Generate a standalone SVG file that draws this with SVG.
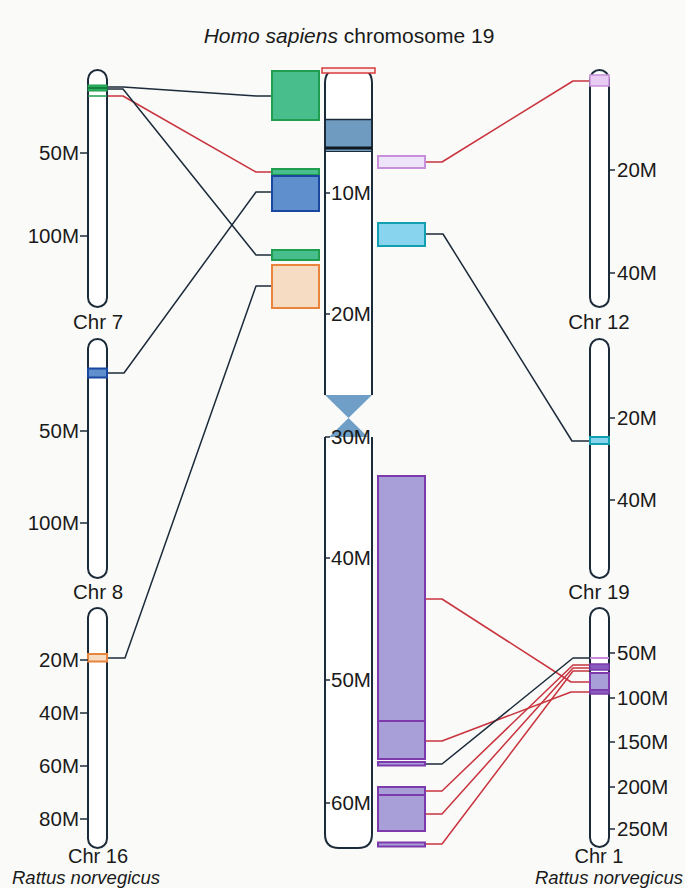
<svg xmlns="http://www.w3.org/2000/svg" width="685" height="888" viewBox="0 0 685 888">
<style>
text{font-family:"Liberation Sans",Arial,sans-serif;font-size:20.5px;fill:#1a1a1a}
.it{font-style:italic}
.ttl{font-size:21px}
.sp{font-size:18.5px}
.cb{font-size:20px}
.chr{fill:#ffffff;stroke:#1c2b3a;stroke-width:2}
.tick{stroke:#1c2b3a;stroke-width:1.5}
.con{fill:none;stroke-width:1.5;stroke-linejoin:round}
.k{stroke:#1c2b3a}
.r{stroke:#c9343e}
.grn{fill:#48be8c;stroke:#1f9e50;stroke-width:2}
.blu{fill:#5f8fcc;stroke:#1a47a0;stroke-width:2}
.org{fill:#f6dcc2;stroke:#e8843c;stroke-width:2}
.pnk{fill:#eee4fa;stroke:#c890dc;stroke-width:2}
.cyn{fill:#88d4ee;stroke:#10a0b0;stroke-width:2}
.pur{fill:#a89ed8;stroke:#7c3aac;stroke-width:2}
.dpur{fill:#8a5cc0;stroke:#7c3aac;stroke-width:1.5}
.end{text-anchor:end}
.mid{text-anchor:middle}
</style>
<rect x="0" y="0" width="685" height="888" fill="#fafaf9"/>
<text x="349" y="43" class="mid ttl"><tspan class="it">Homo sapiens</tspan> chromosome 19</text>

<g id="connectors">
<polyline class="con k" points="107,87 123,87 256,96 272,96"/>
<polyline class="con r" points="107,96 123,96 256,172 272,172"/>
<polyline class="con k" points="107,89 123,89 256,255 272,255"/>
<polyline class="con k" points="107,373 124,373 256,192 272,192"/>
<polyline class="con k" points="107,658 125,658 256,286 272,286"/>
<polyline class="con r" points="425,162 442,162 573,81 590,81"/>
<polyline class="con k" points="425,234 443,234 572,441 590,441"/>
<polyline class="con r" points="425,599 442,599 571,682 590,682"/>
<polyline class="con r" points="425,741 442,741 571,692 590,692"/>
<polyline class="con k" points="425,764 442,764 573,658 590,658"/>
<polyline class="con r" points="425,791 442,791 573,665 590,665"/>
<polyline class="con r" points="425,814 442,814 573,668 590,668"/>
<polyline class="con r" points="425,844 442,844 573,671 590,671"/>
</g>

<g id="hs-chr19">
<polygon points="325,395 372,395 348.5,418" fill="#6f9fc6"/>
<polygon points="348.5,418 325,441 372,441" fill="#6f9fc6"/>
<path class="chr" d="M325,395 L325,83 Q325,69 339,69 L358,69 Q372,69 372,83 L372,395"/>
<path class="chr" d="M325,437 L325,834 Q325,848 339,848 L358,848 Q372,848 372,834 L372,437"/>
<rect x="326" y="119" width="45" height="33" fill="#6e9bbf"/>
<line x1="325" y1="119.5" x2="372" y2="119.5" stroke="#1c2b3a" stroke-width="1.5"/>
<rect x="325" y="146.5" width="47" height="3" fill="#101820"/>
<line x1="325" y1="151.5" x2="372" y2="151.5" stroke="#1c2b3a" stroke-width="1"/>
<line class="tick" x1="325" y1="193" x2="330" y2="193"/><text x="331" y="200">10M</text>
<line class="tick" x1="325" y1="314" x2="330" y2="314"/><text x="331" y="321">20M</text>
<line class="tick" x1="325" y1="437" x2="330" y2="437"/><text x="331" y="444">30M</text>
<line class="tick" x1="325" y1="558" x2="330" y2="558"/><text x="331" y="565">40M</text>
<line class="tick" x1="325" y1="680" x2="330" y2="680"/><text x="331" y="687">50M</text>
<line class="tick" x1="325" y1="803" x2="330" y2="803"/><text x="331" y="810">60M</text>
<rect x="322" y="68" width="53" height="5" fill="#fdeeee" stroke="#d83c3c" stroke-width="1.5"/>
</g>

<g id="hs-blocks-left">
<rect class="grn" x="272" y="71" width="47" height="49"/>
<rect class="grn" x="272" y="169" width="47" height="6"/>
<rect class="blu" x="272" y="176" width="47" height="35"/>
<rect class="grn" x="272" y="250" width="47" height="10"/>
<rect class="org" x="272" y="265" width="47" height="43"/>
</g>

<g id="hs-blocks-right">
<rect class="pnk" x="378" y="156" width="47" height="12"/>
<rect class="cyn" x="378" y="223" width="47" height="23"/>
<rect class="pur" x="378" y="476" width="47" height="245"/>
<rect class="pur" x="378" y="721" width="47" height="38"/>
<rect class="pur" x="378" y="762" width="47" height="3.5" stroke-width="1.5"/>
<rect class="pur" x="378" y="787" width="47" height="8"/>
<rect class="pur" x="378" y="795" width="47" height="36"/>
<rect class="pur" x="378" y="842.5" width="47" height="4" stroke-width="1.5"/>
</g>

<g id="rn-chr7">
<rect class="chr" x="88" y="70" width="19" height="237" rx="9.5"/>
<rect x="88" y="85" width="19" height="6" fill="#2fae5e" stroke="#1f9e50" stroke-width="1"/>
<line x1="88" y1="88" x2="107" y2="88" stroke="#148040" stroke-width="2"/>
<line x1="88" y1="96" x2="107" y2="96" stroke="#1f9e50" stroke-width="1.5"/>
<line class="tick" x1="80" y1="153" x2="88" y2="153"/><text x="79" y="160" class="end">50M</text>
<line class="tick" x1="80" y1="236" x2="88" y2="236"/><text x="79" y="243" class="end">100M</text>
<text x="98" y="329" class="mid">Chr 7</text>
</g>

<g id="rn-chr8">
<rect class="chr" x="88" y="339" width="19" height="239" rx="9.5"/>
<rect class="blu" x="88" y="368.5" width="19" height="9" stroke-width="1.5"/>
<line class="tick" x1="80" y1="431" x2="88" y2="431"/><text x="79" y="438" class="end">50M</text>
<line class="tick" x1="80" y1="523" x2="88" y2="523"/><text x="79" y="530" class="end">100M</text>
<text x="98" y="599" class="mid">Chr 8</text>
</g>

<g id="rn-chr16">
<rect class="chr" x="88" y="608" width="19" height="240" rx="9.5"/>
<rect class="org" x="88" y="654" width="19" height="7.5" stroke-width="1.5"/>
<line class="tick" x1="80" y1="660" x2="88" y2="660"/><text x="79" y="667" class="end">20M</text>
<line class="tick" x1="80" y1="713" x2="88" y2="713"/><text x="79" y="720" class="end">40M</text>
<line class="tick" x1="80" y1="766" x2="88" y2="766"/><text x="79" y="773" class="end">60M</text>
<line class="tick" x1="80" y1="819" x2="88" y2="819"/><text x="79" y="826" class="end">80M</text>
<text x="98" y="863" class="mid cb">Chr 16</text>
<text x="12" y="884" class="it sp">Rattus norvegicus</text>
</g>

<g id="rn-chr12">
<rect class="chr" x="590" y="70" width="19" height="237" rx="9.5"/>
<rect x="590" y="75" width="19" height="11" fill="#e8ccf4" stroke="#c890dc" stroke-width="1.5"/>
<line class="tick" x1="609" y1="170" x2="615" y2="170"/><text x="617" y="177">20M</text>
<line class="tick" x1="609" y1="273" x2="615" y2="273"/><text x="617" y="280">40M</text>
<text x="599" y="329" class="mid">Chr 12</text>
</g>

<g id="rn-chr19">
<rect class="chr" x="590" y="339" width="19" height="239" rx="9.5"/>
<rect class="cyn" x="590" y="437" width="19" height="7" stroke-width="1.5"/>
<line class="tick" x1="609" y1="418" x2="615" y2="418"/><text x="617" y="425">20M</text>
<line class="tick" x1="609" y1="500" x2="615" y2="500"/><text x="617" y="507">40M</text>
<text x="599" y="599" class="mid">Chr 19</text>
</g>

<g id="rn-chr1">
<rect class="chr" x="590" y="608" width="19" height="239" rx="9.5"/>
<line x1="590" y1="658" x2="609" y2="658" stroke="#c58ad8" stroke-width="2"/>
<rect class="dpur" x="590" y="664" width="19" height="6"/>
<rect class="pur" x="590" y="673" width="19" height="17" stroke-width="1.5"/>
<rect class="dpur" x="590" y="690" width="19" height="4"/>
<line class="tick" x1="609" y1="653" x2="615" y2="653"/><text x="617" y="660">50M</text>
<line class="tick" x1="609" y1="698" x2="615" y2="698"/><text x="617" y="705">100M</text>
<line class="tick" x1="609" y1="742" x2="615" y2="742"/><text x="617" y="749">150M</text>
<line class="tick" x1="609" y1="787" x2="615" y2="787"/><text x="617" y="794">200M</text>
<line class="tick" x1="609" y1="829" x2="615" y2="829"/><text x="617" y="836">250M</text>
<text x="599" y="863" class="mid cb">Chr 1</text>
<text x="683" y="884" class="it end sp">Rattus norvegicus</text>
</g>
</svg>
